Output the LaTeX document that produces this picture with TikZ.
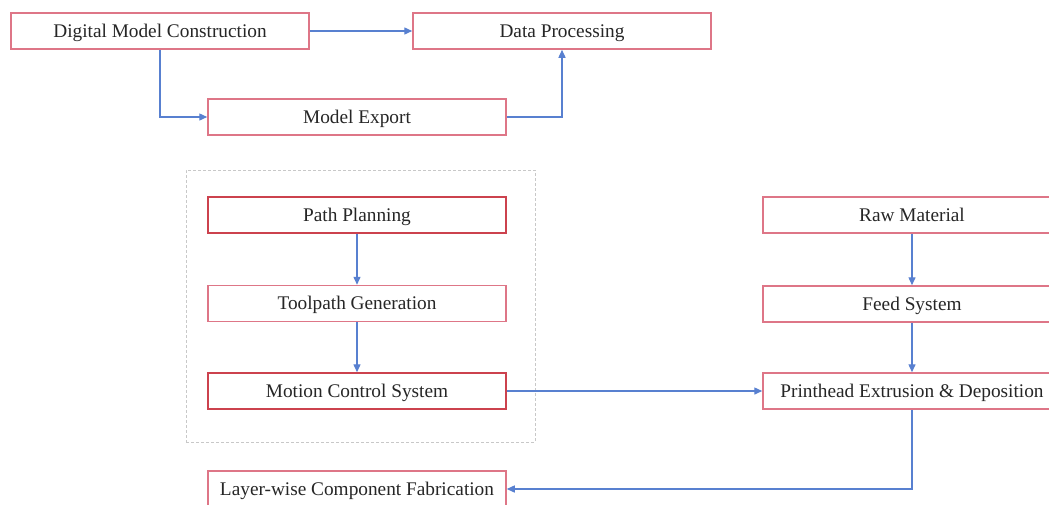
\documentclass[tikz,border=0pt]{standalone}
\usepackage{fontspec}
\setmainfont{Liberation Serif}
\usetikzlibrary{arrows.meta}
\definecolor{boxpink}{RGB}{222,118,135}
\definecolor{boxred}{RGB}{204,66,78}
\definecolor{arrowblue}{RGB}{88,128,208}
\definecolor{dashgray}{RGB}{200,200,200}
\tikzset{
  stepbox/.style={draw=boxpink, line width=1.5pt, fill=white, minimum width=298pt, minimum height=36pt, inner sep=0pt, text height=14.8pt, text depth=2pt, font=\fontsize{19.3}{22}\selectfont, text=black!85},
  strongbox/.style={stepbox, draw=boxred},
  conn/.style={draw=arrowblue, line width=1.4pt, -{Triangle[length=8pt,width=7pt]}},
  groupbox/.style={draw=dashgray, dashed, dash pattern=on 3pt off 2pt, line width=1pt, minimum width=349pt, minimum height=272pt, inner sep=0pt}
}
\begin{document}
\begin{tikzpicture}[x=1pt,y=-1pt]
\clip (0,0) rectangle (1049,504);
\fill[white] (0,0) rectangle (1049,504);
\node[groupbox] (grp) at (360.5,306) {};
\node[stepbox] (dmc) at (160,31) {Digital Model Construction};
\node[stepbox] (dp) at (562,31) {Data Processing};
\node[stepbox] (me) at (357,117) {Model Export};
\node[strongbox] (pp) at (357,215) {Path Planning};
\node[stepbox] (tg) at (357,303.5) {Toolpath Generation};
\node[strongbox] (mcs) at (357,391) {Motion Control System};
\node[stepbox] (rm) at (912,215) {Raw Material};
\node[stepbox] (fs) at (912,304) {Feed System};
\node[stepbox] (ph) at (912,391) {Printhead Extrusion \& Deposition};
\node[stepbox] (lw) at (357,489) {Layer-wise Component Fabrication};
\draw[conn] (dmc.east) -- (dp.west);
\draw[conn] (dmc.south) |- (me.west);
\draw[conn] (me.east) -| (dp.south);
\draw[conn] (pp.south) -- (tg.north);
\draw[conn] (tg.south) -- (mcs.north);
\draw[conn] (mcs.east) -- (ph.west);
\draw[conn] (rm.south) -- (fs.north);
\draw[conn] (fs.south) -- (ph.north);
\draw[conn] (ph.south) |- (lw.east);
\end{tikzpicture}
\end{document}
